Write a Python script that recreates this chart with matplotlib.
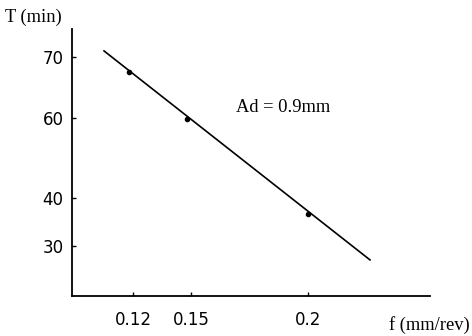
import numpy as np
import matplotlib
matplotlib.use("Agg")
import matplotlib.pyplot as plt

# measured points (feed f in mm/rev, tool life T in min)
feed = [0.118, 0.148, 0.200]
life = [67.5, 59.8, 36.7]

# fitted line end points
fit_feed = [0.105, 0.2265]
fit_life = [71.0, 27.1]

x_ticks = [0.12, 0.15, 0.2]
x_labels = ["0.12", "0.15", "0.2"]
y_ticks = [30, 40, 60, 70]
y_labels = ["30", "40", "60", "70"]

# the scanned axes are not evenly spaced: anchor tick values to their positions
x_anchor_pos = [133, 191, 308]
y_anchor_pos = [-246, -198, -118, -57]


def _interp(v, xp, fp):
    v = np.asarray(v, dtype=float)
    shape = v.shape
    v = v.reshape(-1)
    out = np.interp(v, xp, fp)
    lo = v < xp[0]
    hi = v > xp[-1]
    out[lo] = fp[0] + (v[lo] - xp[0]) * (fp[1] - fp[0]) / (xp[1] - xp[0])
    out[hi] = fp[-1] + (v[hi] - xp[-1]) * (fp[-1] - fp[-2]) / (xp[-1] - xp[-2])
    return out.reshape(shape)


def make_scale(vals, pos):
    return (lambda v: _interp(v, vals, pos), lambda p: _interp(p, pos, vals))


def main() -> None:
    fig = plt.figure(figsize=(4.72, 3.36), dpi=100)
    ax = fig.add_axes([72 / 472, 1 - 296 / 336, 358 / 472, 267 / 336])

    ax.set_xscale("function", functions=make_scale(x_ticks, x_anchor_pos))
    ax.set_yscale("function", functions=make_scale(y_ticks, y_anchor_pos))

    ax.plot(fit_feed, fit_life, color="black", lw=1.2)
    ax.plot(feed, life, "o", color="black", ms=3)

    ax.set_xlim(_interp(72, x_anchor_pos, x_ticks), _interp(430, x_anchor_pos, x_ticks))
    ax.set_ylim(_interp(-296, y_anchor_pos, y_ticks), _interp(-29, y_anchor_pos, y_ticks))

    ax.set_xticks(x_ticks, x_labels)
    ax.set_yticks(y_ticks, y_labels)
    ax.minorticks_off()
    ax.tick_params(axis="both", direction="in", length=3, width=1, labelsize=12)
    ax.tick_params(axis="x", pad=11)
    ax.tick_params(axis="y", pad=6)

    for side in ("top", "right"):
        ax.spines[side].set_visible(False)
    for side in ("left", "bottom"):
        ax.spines[side].set_linewidth(1.3)

    serif = {"family": "Liberation Serif", "size": 13.3}
    fig.text(5 / 472, 1 - 22 / 336, "T (min)", fontdict=serif)
    fig.text(389 / 472, 1 - 330 / 336, "f (mm/rev)", fontdict=serif)
    fig.text(236 / 472, 1 - 112 / 336, "Ad = 0.9mm", fontdict=serif)

    fig.savefig("out.png", dpi=100)


if __name__ == "__main__":
    main()
